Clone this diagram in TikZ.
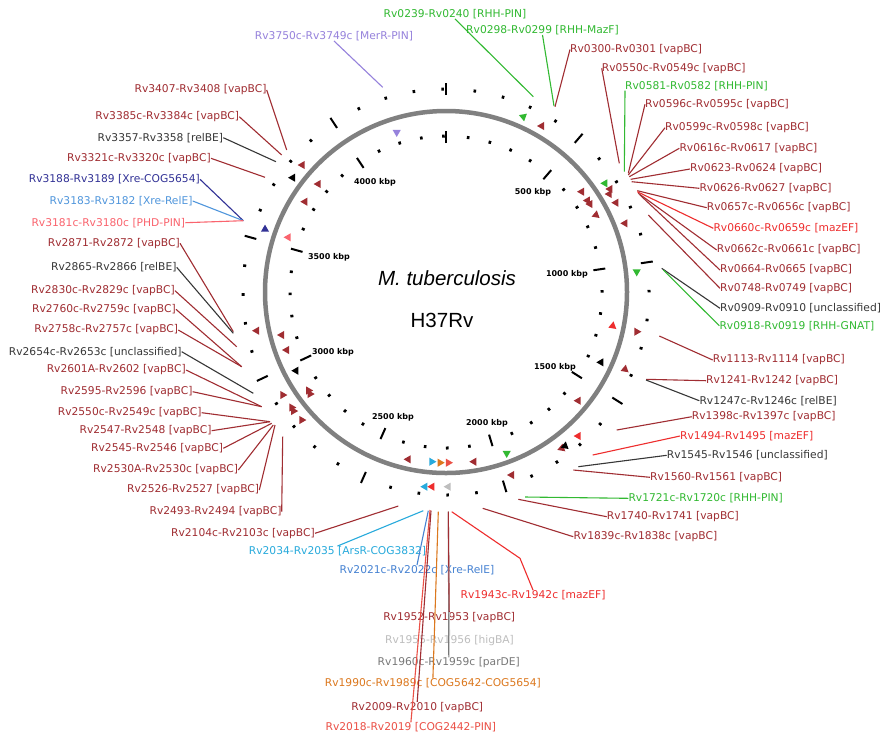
\documentclass[tikz,border=0pt]{standalone}
\usepackage{fontspec}
\setmainfont{DejaVu Sans}
\newfontfamily\titlefont{Liberation Sans}
\usepackage{xcolor}
\usepackage{tikz}
\usetikzlibrary{shapes.geometric}

\definecolor{vapred}{RGB}{160,45,50}
\definecolor{rhhgreen}{RGB}{50,185,50}
\definecolor{mazred}{RGB}{238,45,45}
\definecolor{relgray}{RGB}{55,55,55}
\definecolor{merpurple}{RGB}{150,130,220}
\definecolor{xreblue}{RGB}{50,50,150}
\definecolor{relblue}{RGB}{80,150,220}
\definecolor{phdpink}{RGB}{250,100,110}
\definecolor{arsblue}{RGB}{40,170,220}
\definecolor{xrerelblue}{RGB}{70,130,210}
\definecolor{higgray}{RGB}{190,190,190}
\definecolor{pargray}{RGB}{120,120,120}
\definecolor{cogorange}{RGB}{220,120,30}
\definecolor{pinred}{RGB}{235,80,70}
\definecolor{ringgray}{RGB}{128,128,128}

\begin{document}
\begin{tikzpicture}[
	x=1pt, y=-1pt,
	font=\fontsize{10.7}{12}\selectfont
]
\tikzset{
    rlab/.style = {anchor=west, inner sep=0pt},
    llab/.style = {anchor=east, inner sep=0pt},
    blab/.style = {anchor=center, inner sep=0pt},
    con/.style = {line width=1.1pt},
    mytri/.style = {isosceles triangle, isosceles triangle apex angle=60, inner sep=0pt, minimum size=7pt, fill=#1},
    kbp/.style = {font=\bfseries\fontsize{8}{9.6}\selectfont, inner sep=0pt}
}
\useasboundingbox (0,0) rectangle (882,740);
\fill[white] (0,0) rectangle (882,740);

% genome ring with 100 kbp ticks
\draw[ringgray, line width=4.5pt] (446,292) circle (181);
\begin{scope}[shift={(446,292)}]
\foreach \k in {0,...,44}{
    \pgfmathsetmacro\a{\k*8.1604-90}
    \pgfmathtruncatemacro\m{mod(\k,5)}
    \ifnum\m=0
        \draw[line width=2pt] (\a:149) -- (\a:161);
        \draw[line width=2pt] (\a:197) -- (\a:209);
    \else
        \draw[line width=2.6pt] (\a:154.5) -- (\a:157.5);
        \draw[line width=2.6pt] (\a:201.5) -- (\a:204.5);
    \fi
}
\end{scope}
\node[kbp] (k500) at (533,192) {500 kbp};
\node[kbp] (k1000) at (567,274) {1000 kbp};
\node[kbp] (k1500) at (555,367) {1500 kbp};
\node[kbp] (k2000) at (487,423) {2000 kbp};
\node[kbp] (k2500) at (393,417) {2500 kbp};
\node[kbp] (k3000) at (333,352) {3000 kbp};
\node[kbp] (k3500) at (329,257) {3500 kbp};
\node[kbp] (k4000) at (375,182) {4000 kbp};

\node[font=\titlefont\itshape\fontsize{20.5}{24}\selectfont] (title) at (447,278) {M. tuberculosis};
\node[font=\titlefont\fontsize{20.5}{24}\selectfont] (strain) at (442,320) {H37Rv};

% loci
\foreach \px/\py/\c/\r [count=\i] in {
    396.7/132.3/merpurple/150, 523.3/116.7/rhhgreen/160, 541.7/126/vapred/180,
    605/183.3/rhhgreen/180, 610/189/vapred/180, 609.3/194/vapred/180,
    581.7/191.7/vapred/180, 590/204/vapred/180, 587.5/200.5/vapred/180,
    616/202.7/vapred/180, 596/215/vapred/200, 625/223.3/vapred/180,
    636.7/271.7/rhhgreen/270, 612.7/326/mazred/200, 636.7/331.7/vapred/240,
    601/362.3/black/180, 625/369.3/vapred/200, 578.3/400.7/vapred/180,
    578.3/436/mazred/180, 561.7/448.3/vapred/200, 565/446/black/200,
    506.7/453.3/rhhgreen/270, 474/461.7/vapred/180, 511.7/475/vapred/180,
    408.3/459.3/vapred/180, 431.7/461.7/arsblue/0, 440/462.7/cogorange/0,
    448.3/462.7/pinred/0, 425/486.7/arsblue/180, 432/486.7/mazred/180,
    448.3/486.7/higgray/180,
    302.3/165/vapred/180, 292.7/177.7/black/180, 318.3/184/vapred/180,
    305/201.7/vapred/180, 265/229.3/xreblue/90, 288.3/237.3/phdpink/180,
    256.7/330.7/vapred/180, 281.7/335/vapred/180, 286.7/350/vapred/180,
    296/370.7/black/180, 282.7/395/vapred/0, 310/394/vapred/0,
    308.5/390.5/vapred/0, 291.7/407.5/vapred/0, 293.5/411/vapred/0,
    301.7/420/vapred/0}
    \node[mytri=\c, rotate=\r] (tri\i) at (\px,\py) {};

% top labels
\coordinate (m0239) at (533.3,96.7);
\coordinate (m0298) at (554,106);
\coordinate (m3750) at (382.7,87.3);
\node[blab, rhhgreen] (l0239) at (455,14) {Rv0239-Rv0240 [RHH-PIN]};
\node[blab, rhhgreen] (l0298) at (542.5,30) {Rv0298-Rv0299 [RHH-MazF]};
\node[blab, merpurple] (l3750) at (334,36) {Rv3750c-Rv3749c [MerR-PIN]};
\draw[con, rhhgreen] (m0239) -- (l0239.south);
\draw[con, rhhgreen] (m0298) -- (l0298.south);
\draw[con, merpurple] (m3750) -- (l3750.south);

% right labels
\coordinate (m0300) at (555,106.7);
\coordinate (m0550) at (619.3,163.3);
\coordinate (m0581) at (624.3,171.7);
\coordinate (m0596) at (628.3,173.3);
\coordinate (m0599) at (628.3,175);
\coordinate (m0616) at (629.3,176.7);
\coordinate (m0623) at (630.7,179.3);
\coordinate (m0626) at (631.7,181.7);
\coordinate (m0657) at (637.3,190.7);
\coordinate (m0660) at (637.3,191.7);
\coordinate (m0662) at (638.3,193.3);
\coordinate (m0664) at (640,195);
\coordinate (m0748) at (648.3,215);
\coordinate (m0909) at (661.7,268.3);
\coordinate (m0918) at (663.3,270);
\coordinate (m1113) at (659.3,336);
\coordinate (m1241) at (646,379.3);
\coordinate (m1247) at (646,380);
\coordinate (m1398) at (616.7,430);
\coordinate (m1494) at (592.7,455);
\coordinate (m1545) at (578.3,466.7);
\coordinate (m1560) at (573.3,470);
\coordinate (m1721) at (525,497);
\coordinate (m1740) at (518.3,499.3);
\coordinate (m1839) at (482.7,508.3);
\node[rlab, vapred] (l0300) at (570,49.5) {Rv0300-Rv0301 [vapBC]};
\node[rlab, vapred] (l0550) at (601.7,68.3) {Rv0550c-Rv0549c [vapBC]};
\node[rlab, rhhgreen] (l0581) at (625,85.7) {Rv0581-Rv0582 [RHH-PIN]};
\node[rlab, vapred] (l0596) at (645,104.3) {Rv0596c-Rv0595c [vapBC]};
\node[rlab, vapred] (l0599) at (665,127.7) {Rv0599c-Rv0598c [vapBC]};
\node[rlab, vapred] (l0616) at (679.3,148.3) {Rv0616c-Rv0617 [vapBC]};
\node[rlab, vapred] (l0623) at (690,169) {Rv0623-Rv0624 [vapBC]};
\node[rlab, vapred] (l0626) at (699.3,188.3) {Rv0626-Rv0627 [vapBC]};
\node[rlab, vapred] (l0657) at (706.7,207.7) {Rv0657c-Rv0656c [vapBC]};
\node[rlab, mazred] (l0660) at (713.3,228.3) {Rv0660c-Rv0659c [mazEF]};
\node[rlab, vapred] (l0662) at (716.7,250) {Rv0662c-Rv0661c [vapBC]};
\node[rlab, vapred] (l0664) at (720,270) {Rv0664-Rv0665 [vapBC]};
\node[rlab, vapred] (l0748) at (720,288.3) {Rv0748-Rv0749 [vapBC]};
\node[rlab, relgray] (l0909) at (720,308.3) {Rv0909-Rv0910 [unclassified]};
\node[rlab, rhhgreen] (l0918) at (719.3,325.7) {Rv0918-Rv0919 [RHH-GNAT]};
\node[rlab, vapred] (l1113) at (712.7,360) {Rv1113-Rv1114 [vapBC]};
\node[rlab, vapred] (l1241) at (706,380.7) {Rv1241-Rv1242 [vapBC]};
\node[rlab, relgray] (l1247) at (699.3,400.7) {Rv1247c-Rv1246c [relBE]};
\node[rlab, vapred] (l1398) at (691.7,416.7) {Rv1398c-Rv1397c [vapBC]};
\node[rlab, mazred] (l1494) at (680,436) {Rv1494-Rv1495 [mazEF]};
\node[rlab, relgray] (l1545) at (666.7,455.3) {Rv1545-Rv1546 [unclassified]};
\node[rlab, vapred] (l1560) at (650,477.3) {Rv1560-Rv1561 [vapBC]};
\node[rlab, rhhgreen] (l1721) at (628.3,498.3) {Rv1721c-Rv1720c [RHH-PIN]};
\node[rlab, vapred] (l1740) at (606.7,516.7) {Rv1740-Rv1741 [vapBC]};
\node[rlab, vapred] (l1839) at (573.3,536.7) {Rv1839c-Rv1838c [vapBC]};
\draw[con, vapred] (m0300) -- (l0300.west);
\draw[con, vapred] (m0550) -- (l0550.west);
\draw[con, rhhgreen] (m0581) -- (l0581.south west);
\draw[con, vapred] (m0596) -- (l0596.west);
\draw[con, vapred] (m0599) -- (l0599.west);
\draw[con, vapred] (m0616) -- (l0616.west);
\draw[con, vapred] (m0623) -- (l0623.west);
\draw[con, vapred] (m0626) -- (l0626.west);
\draw[con, vapred] (m0657) -- (l0657.west);
\draw[con, mazred] (m0660) -- (l0660.west);
\draw[con, vapred] (m0662) -- (l0662.west);
\draw[con, vapred] (m0664) -- (l0664.west);
\draw[con, vapred] (m0748) -- (l0748.west);
\draw[con, relgray] (m0909) -- (l0909.west);
\draw[con, rhhgreen] (m0918) -- (l0918.west);
\draw[con, vapred] (m1113) -- (l1113.west);
\draw[con, vapred] (m1241) -- (l1241.west);
\draw[con, relgray] (m1247) -- (l1247.west);
\draw[con, vapred] (m1398) -- (l1398.west);
\draw[con, mazred] (m1494) -- (l1494.west);
\draw[con, relgray] (m1545) -- (l1545.west);
\draw[con, vapred] (m1560) -- (l1560.west);
\draw[con, rhhgreen] (m1721) -- (l1721.west);
\draw[con, vapred] (m1740) -- (l1740.west);
\draw[con, vapred] (m1839) -- (l1839.west);

% bottom labels
\coordinate (m2034) at (423.3,510.7);
\coordinate (m2021) at (428.3,510.7);
\coordinate (m2018) at (430,510);
\coordinate (m2009) at (431,510.7);
\coordinate (m1990) at (438.3,511.7);
\coordinate (m1952) at (448.3,511.7);
\coordinate (m1943) at (451.7,511.7);
\coordinate (b1943) at (520,558.3);
\node[blab, arsblue] (l2034) at (337.5,551) {Rv2034-Rv2035 [ArsR-COG3832]};
\node[blab, xrerelblue] (l2021) at (417,570) {Rv2021c-Rv2022c [Xre-RelE]};
\node[blab, mazred] (l1943) at (533,595) {Rv1943c-Rv1942c [mazEF]};
\node[blab, vapred] (l1952) at (449.2,617.3) {Rv1952-Rv1953 [vapBC]};
\node[blab, higgray] (l1955) at (449.5,641) {Rv1955-Rv1956 [higBA]};
\node[blab, pargray] (l1960) at (448.8,662.7) {Rv1960c-Rv1959c [parDE]};
\node[blab, cogorange] (l1990) at (432.9,683.3) {Rv1990c-Rv1989c [COG5642-COG5654]};
\node[blab, vapred] (l2009) at (417.2,707.3) {Rv2009-Rv2010 [vapBC]};
\node[blab, pinred] (l2018) at (410.9,727.3) {Rv2018-Rv2019 [COG2442-PIN]};
\draw[con, arsblue] (m2034) -- (l2034.north);
\draw[con, xrerelblue] (m2021) -- (l2021.north);
\draw[con, pinred] (m2018) -- (l2018.north);
\draw[con, vapred] (m2009) -- (l2009.north);
\draw[con, cogorange] (m1990) -- (l1990.north);
\draw[con, pargray] (m1952) -- (l1960.north);
\draw[con, higgray] (m1952) -- (l1955.north);
\draw[con, vapred] (m1952) -- (l1952.north);
\draw[con, mazred] (m1943) -- (b1943) -- (l1943.north);

% left labels
\coordinate (m3407) at (286.7,150);
\coordinate (m3385) at (281.7,155);
\coordinate (m3357) at (276,161.7);
\coordinate (m3321) at (265,177.3);
\coordinate (m3188) at (243.3,220.7);
\coordinate (m2871) at (233.3,331.7);
\coordinate (m2865) at (233.3,333.3);
\coordinate (m2830) at (236.7,346.7);
\coordinate (m2760) at (241.7,366.7);
\coordinate (m2654) at (253.3,393.3);
\coordinate (m2601) at (261.7,406.7);
\coordinate (m2550) at (270,421.7);
\coordinate (m2545) at (271.7,423.3);
\coordinate (m2530) at (273.3,425);
\coordinate (m2526) at (275,425);
\coordinate (m2493) at (282.7,436.7);
\coordinate (m2104) at (398.3,506);
\node[llab, vapred] (l3407) at (266.7,90) {Rv3407-Rv3408 [vapBC]};
\node[llab, vapred] (l3385) at (239.3,116.7) {Rv3385c-Rv3384c [vapBC]};
\node[llab, relgray] (l3357) at (223.3,137.7) {Rv3357-Rv3358 [relBE]};
\node[llab, vapred] (l3321) at (211,158.3) {Rv3321c-Rv3320c [vapBC]};
\node[llab, xreblue] (l3188) at (200,179.3) {Rv3188-Rv3189 [Xre-COG5654]};
\node[llab, relblue] (l3183) at (192.7,201) {Rv3183-Rv3182 [Xre-RelE]};
\node[llab, phdpink] (l3181) at (185.3,222.7) {Rv3181c-Rv3180c [PHD-PIN]};
\node[llab, vapred] (l2871) at (180,243.3) {Rv2871-Rv2872 [vapBC]};
\node[llab, relgray] (l2865) at (176.7,267.3) {Rv2865-Rv2866 [relBE]};
\node[llab, vapred] (l2830) at (175,290.7) {Rv2830c-Rv2829c [vapBC]};
\node[llab, vapred] (l2760) at (176,309.3) {Rv2760c-Rv2759c [vapBC]};
\node[llab, vapred] (l2758) at (178.3,330) {Rv2758c-Rv2757c [vapBC]};
\node[llab, relgray] (l2654) at (181.7,351.7) {Rv2654c-Rv2653c [unclassified]};
\node[llab, vapred] (l2601) at (186,370) {Rv2601A-Rv2602 [vapBC]};
\node[llab, vapred] (l2595) at (192.7,391.7) {Rv2595-Rv2596 [vapBC]};
\node[llab, vapred] (l2550) at (201.7,412.7) {Rv2550c-Rv2549c [vapBC]};
\node[llab, vapred] (l2547) at (211.7,430.7) {Rv2547-Rv2548 [vapBC]};
\node[llab, vapred] (l2545) at (223.3,448.3) {Rv2545-Rv2546 [vapBC]};
\node[llab, vapred] (l2530) at (238.3,470) {Rv2530A-Rv2530c [vapBC]};
\node[llab, vapred] (l2526) at (259.3,490) {Rv2526-Rv2527 [vapBC]};
\node[llab, vapred] (l2493) at (281.7,511.7) {Rv2493-Rv2494 [vapBC]};
\node[llab, vapred] (l2104) at (315,533.3) {Rv2104c-Rv2103c [vapBC]};
\draw[con, vapred] (m3407) -- (l3407.east);
\draw[con, vapred] (m3385) -- (l3385.east);
\draw[con, relgray] (m3357) -- (l3357.east);
\draw[con, vapred] (m3321) -- (l3321.east);
\draw[con, xreblue] (m3188) -- (l3188.east);
\draw[con, relblue] (m3188) -- (l3183.east);
\draw[con, phdpink] (m3188) -- (l3181.east);
\draw[con, vapred] (m2871) -- (l2871.east);
\draw[con, relgray] (m2865) -- (l2865.east);
\draw[con, vapred] (m2830) -- (l2830.east);
\draw[con, vapred] (m2760) -- (l2760.east);
\draw[con, vapred] (m2760) -- (l2758.east);
\draw[con, relgray] (m2654) -- (l2654.east);
\draw[con, vapred] (m2601) -- (l2601.east);
\draw[con, vapred] (m2601) -- (l2595.east);
\draw[con, vapred] (m2550) -- (l2550.east);
\draw[con, vapred] (m2550) -- (l2547.east);
\draw[con, vapred] (m2545) -- (l2545.east);
\draw[con, vapred] (m2530) -- (l2530.east);
\draw[con, vapred] (m2526) -- (l2526.east);
\draw[con, vapred] (m2493) -- (l2493.east);
\draw[con, vapred] (m2104) -- (l2104.east);
\end{tikzpicture}
\end{document}
